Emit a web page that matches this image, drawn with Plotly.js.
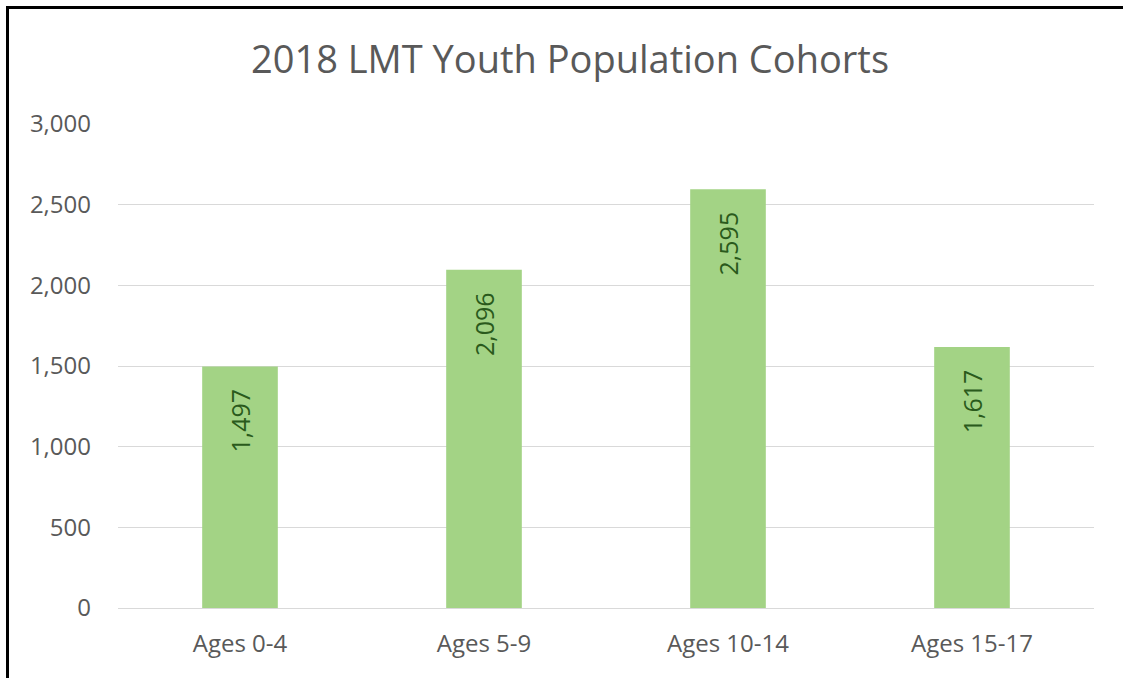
<!DOCTYPE html>
<html>
<head>
<meta charset="utf-8">
<script src="https://cdn.plot.ly/plotly-3.0.1.min.js"></script>
<style>
  html, body { margin:0; padding:0; background:#fff; overflow:hidden; }
  #chart { width:1123px; height:678px; }
</style>
</head>
<body>
<div id="chart"></div>
<script>
const categories = ["Ages 0-4", "Ages 5-9", "Ages 10-14", "Ages 15-17"];
const population = [1497, 2096, 2595, 1617];
const yTickValues = [0, 500, 1000, 1500, 2000, 2500, 3000];
const chartTitle = "2018 LMT Youth Population Cohorts";

const FONT = "'Open Sans', Lato, sans-serif";
const W = 1123, H = 678;
const M = { l: 118, r: 29, t: 124, b: 70 };
const pw = W - M.l - M.r, ph = H - M.t - M.b;
// convert pixel coordinate to paper coordinate for the frame lines
const px = x => (x - M.l) / pw;
const py = y => (H - M.b - y) / ph;

const trace = {
  type: "bar",
  x: categories,
  y: population,
  width: 0.31,
  marker: { color: "#a3d385", line: { width: 0 } },
  text: population.map(v => v.toLocaleString("en-US") + "   "),
  textposition: "inside",
  insidetextanchor: "end",
  textangle: -90,
  textfont: { family: FONT, size: 25, color: "#2a5a1c" },
  hoverinfo: "none",
  cliponaxis: false
};

const layout = {
  width: W, height: H,
  margin: M,
  paper_bgcolor: "#ffffff",
  plot_bgcolor: "#ffffff",
  font: { family: FONT, color: "#595959" },
  title: {
    text: chartTitle,
    font: { size: 38, color: "#595959", family: FONT },
    x: 570 / W, xref: "container", xanchor: "center",
    y: 1 - 60 / H, yref: "container", yanchor: "middle"
  },
  xaxis: {
    type: "category",
    showgrid: false,
    showline: true, linecolor: "#d9d9d9", linewidth: 1,
    ticks: "", tickfont: { size: 24, color: "#595959" },
    ticklabelstandoff: 14
  },
  yaxis: {
    range: [0, 3000],
    tickvals: yTickValues,
    tickformat: ",d",
    showgrid: true, gridcolor: "#d9d9d9", gridwidth: 1,
    zeroline: false, showline: false,
    ticks: "", tickfont: { size: 24, color: "#595959" },
    ticklabelstandoff: 26
  },
  shapes: [
    { type: "line", xref: "paper", yref: "paper", x0: px(7.5), x1: px(7.5), y0: py(6), y1: py(700), line: { color: "#000", width: 3 } },
    { type: "line", xref: "paper", yref: "paper", x0: px(6), x1: px(1140), y0: py(7.5), y1: py(7.5), line: { color: "#000", width: 3 } }
  ],
  bargap: 0.69,
  showlegend: false
};

Plotly.newPlot("chart", [trace], layout, { displayModeBar: false, staticPlot: true });
</script>
</body>
</html>
